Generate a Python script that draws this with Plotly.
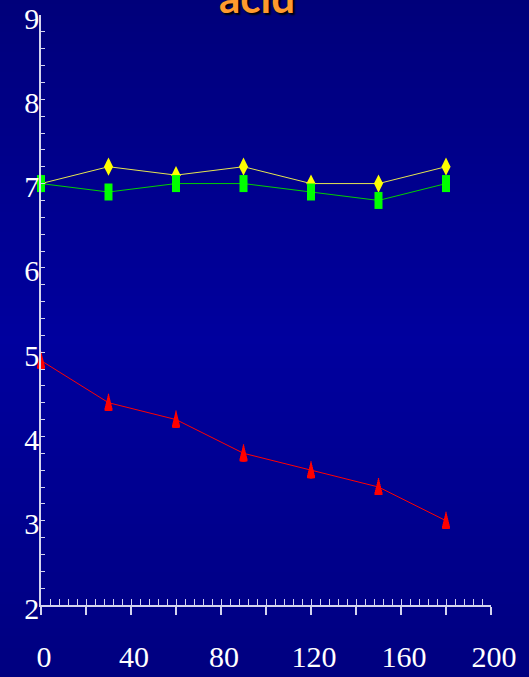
import plotly.graph_objects as go

# Sampling times and measured values for the three series
times = [0, 30, 60, 90, 120, 150, 180]
yellow_vals = [7.0, 7.2, 7.1, 7.2, 7.0, 7.0, 7.2]
green_vals = [7.0, 6.9, 7.0, 7.0, 6.9, 6.8, 7.0]
red_vals = [4.9, 4.4, 4.2, 3.8, 3.6, 3.4, 3.0]

x_tickvals = list(range(0, 201, 20))
x_ticktext = [str(v) if v % 40 == 0 else "" for v in x_tickvals]
y_tickvals = [2, 3, 4, 5, 6, 7, 8, 9]

W, H = 529, 677
ML, MR, MT, MB = 41, 38, 15, 72
plot_h = H - MT - MB

# plotly's line-ns symbol spans 1.4 x marker size
LINE_SYMBOL_SCALE = 1.4

fig = go.Figure()

# Yellow diamonds
fig.add_trace(go.Scatter(
    x=times, y=yellow_vals, mode="lines+markers",
    line=dict(color="#e6e650", width=1),
    marker=dict(symbol="diamond-tall", size=13, color="#ffff00",
                line=dict(width=0)),
    cliponaxis=False, showlegend=False,
))

# Green upright rectangles (thick vertical strokes, 8 x 17 px)
fig.add_trace(go.Scatter(
    x=times, y=green_vals, mode="lines+markers",
    line=dict(color="#00d000", width=1),
    marker=dict(symbol="line-ns", size=17 / LINE_SYMBOL_SCALE,
                color="#00ff00", line=dict(width=8, color="#00ff00")),
    cliponaxis=False, showlegend=False,
))

# Red connecting line
fig.add_trace(go.Scatter(
    x=times, y=red_vals, mode="lines",
    line=dict(color="#ff0000", width=1),
    cliponaxis=False, showlegend=False,
))

# Red tall cones built from stacked vertical strokes:
# (bottom, top, width) in px relative to the point, upward positive
cone_layers = [(-8, -5, 8.0), (-8, -3, 7.0), (-8, -1, 6.0), (-8, 1, 5.0),
               (-8, 3, 4.0), (-8, 5, 3.0), (-8, 7, 2.0), (-8, 9, 1.2)]
for bottom, top, width in cone_layers:
    centre = (top + bottom) / 2
    fig.add_trace(go.Scatter(
        x=times, y=red_vals, mode="markers",
        marker=dict(symbol="line-ns", size=(top - bottom) / LINE_SYMBOL_SCALE,
                    color="#ff0000",
                    angle=180 if centre >= 0 else 0,
                    standoff=abs(centre),
                    line=dict(width=width, color="#ff0000")),
        cliponaxis=False, showlegend=False, hoverinfo="skip",
    ))

# Secondary x axis only for the small upward ticks every 4 units
fig.add_trace(go.Scatter(x=[None], y=[None], xaxis="x2", showlegend=False))

# Vertical background gradient: dark navy at top and bottom, brighter middle
def blue_at(py):
    if py <= 340:
        return 0x7a + (0x9e - 0x7a) * py / 340
    return 0x9e + (0x80 - 0x9e) * (py - 340) / (H - 340)

shapes = []
step = 4
for p in range(0, H, step):
    b = int(round(blue_at(p + step / 2)))
    shapes.append(dict(
        type="rect", xref="paper", yref="paper", layer="below",
        x0=-0.2, x1=1.2,
        y0=(H - MB - (p + step)) / plot_h, y1=(H - MB - p) / plot_h,
        fillcolor=f"rgb(0,0,{b})", line=dict(width=0),
    ))

axis_color = "#d4d4ee"
tick_font = dict(family="Liberation Serif, Times New Roman, serif",
                 size=30, color="white")

fig.update_layout(
    width=W, height=H,
    margin=dict(l=ML, r=MR, t=MT, b=MB),
    paper_bgcolor="#00008c", plot_bgcolor="rgba(0,0,0,0)",
    shapes=shapes,
    xaxis=dict(
        range=[0, 200], tickvals=x_tickvals, ticktext=x_ticktext,
        ticks="outside", ticklen=8, tickwidth=1.5, tickcolor=axis_color,
        showline=True, linecolor=axis_color, linewidth=1.5,
        showgrid=False, zeroline=False, tickfont=tick_font,
        ticklabelstandoff=16, ticklabelshift=3, automargin=False,
        ticklabeloverflow="allow",
    ),
    xaxis2=dict(
        range=[0, 200], overlaying="x", anchor="y", side="bottom",
        tick0=0, dtick=4, ticks="inside", ticklen=6, tickwidth=1,
        tickcolor=axis_color, showticklabels=False, showline=False,
        showgrid=False, zeroline=False, automargin=False,
    ),
    yaxis=dict(
        range=[2, 9], tickvals=y_tickvals,
        ticks="inside", ticklen=4, tickwidth=1, tickcolor=axis_color,
        minor=dict(dtick=0.2, ticks="inside", ticklen=4, tickwidth=1,
                   tickcolor=axis_color),
        showline=True, linecolor=axis_color, linewidth=1.5,
        showgrid=False, zeroline=False, tickfont=tick_font,
        ticklabelshift=3, ticklabelstandoff=-6, automargin=False,
        ticklabeloverflow="allow",
    ),
    annotations=[dict(
        text="acid", xref="paper", yref="paper", x=0.48, y=0.985,
        xanchor="center", yanchor="bottom", showarrow=False,
        font=dict(family="Comic Sans MS, Lato, sans-serif", size=42,
                  weight="bold", color="#ff9a2e",
                  shadow="2px 2px 2px #000000"),
    )],
)

fig.write_html("out.html")
